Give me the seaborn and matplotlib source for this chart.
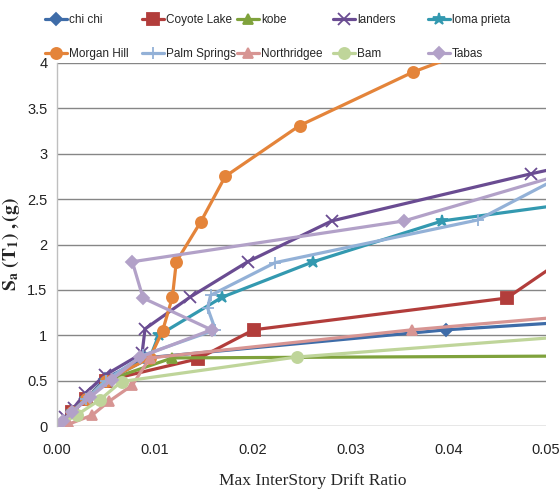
import matplotlib
matplotlib.use('Agg')
import matplotlib.pyplot as plt
import seaborn as sns
import pandas as pd

# dados (drift, Sa)
chichi_x = [0, 0.0015, 0.003, 0.0049, 0.009, 0.0398, 0.056]
chichi_y = [0, 0.15, 0.3, 0.52, 0.75, 1.06, 1.17]

coyote_x = [0, 0.0015, 0.003, 0.005, 0.0144, 0.0201, 0.046, 0.054]
coyote_y = [0, 0.15, 0.3, 0.5, 0.74, 1.06, 1.41, 2.0]

kobe_x = [0, 0.0015, 0.003, 0.005, 0.0118, 0.07]
kobe_y = [0, 0.15, 0.3, 0.5, 0.75, 0.78]

landers_x = [0, 0.0008, 0.0017, 0.0029, 0.0049, 0.0087, 0.009, 0.0136, 0.0195, 0.0281, 0.0485, 0.06]
landers_y = [0, 0.1, 0.2, 0.36, 0.56, 0.8, 1.07, 1.42, 1.81, 2.26, 2.78, 3.05]

loma_x = [0, 0.0015, 0.003, 0.005, 0.0095, 0.0104, 0.0169, 0.0262, 0.0394, 0.06]
loma_y = [0, 0.15, 0.3, 0.5, 0.75, 1.0, 1.42, 1.81, 2.26, 2.56]

morgan_x = [0, 0.0015, 0.003, 0.005, 0.0095, 0.0108, 0.0118, 0.0122, 0.0147, 0.0172, 0.0248, 0.0364, 0.05]
morgan_y = [0, 0.15, 0.3, 0.5, 0.75, 1.05, 1.42, 1.81, 2.25, 2.75, 3.31, 3.9, 4.45]

palm_x = [0, 0.0015, 0.003, 0.005, 0.0088, 0.0162, 0.0154, 0.0157, 0.0223, 0.043, 0.056]
palm_y = [0, 0.15, 0.3, 0.5, 0.78, 1.06, 1.3, 1.44, 1.8, 2.27, 3.0]

northr_x = [0, 0.0012, 0.0036, 0.0053, 0.0077, 0.0095, 0.0363, 0.06]
northr_y = [0, 0.02, 0.12, 0.27, 0.45, 0.75, 1.06, 1.28]

bam_x = [0, 0.002, 0.0044, 0.0066, 0.0245, 0.06]
bam_y = [0, 0.12, 0.29, 0.49, 0.76, 1.05]

tabas_x = [0, 0.0006, 0.0015, 0.0034, 0.0056, 0.0085, 0.0158, 0.0088, 0.0077, 0.0355, 0.062]
tabas_y = [0, 0.05, 0.15, 0.32, 0.51, 0.76, 1.06, 1.41, 1.81, 2.26, 3.1]

nomes = ['chi chi', 'Coyote Lake', 'kobe', 'landers', 'loma prieta',
         'Morgan Hill', 'Palm Springs', 'Northridgee', 'Bam', 'Tabas']
series = [(chichi_x, chichi_y), (coyote_x, coyote_y), (kobe_x, kobe_y),
          (landers_x, landers_y), (loma_x, loma_y), (morgan_x, morgan_y),
          (palm_x, palm_y), (northr_x, northr_y), (bam_x, bam_y), (tabas_x, tabas_y)]
cores = ['#3E6CA8', '#B23D3B', '#7FA23C', '#6A4C92', '#3399B0',
         '#E4843A', '#93B1D7', '#D79593', '#BFD59A', '#B2A1C8']
marcadores = ['D', 's', '^', 'x', '*', 'o', '+', '^', 'o', 'D']
tamanhos = [6, 8, 7, 8, 9, 8, 9, 7, 8, 6]

sns.set_theme(style='white')
plt.rcParams['font.family'] = ['Liberation Sans', 'DejaVu Sans']
plt.rcParams['mathtext.fontset'] = 'stix'

fig = plt.figure(figsize=(5.59, 4.95), dpi=100)
ax = fig.add_axes([57/559, 1-426/495, (546-57)/559, (426-63)/495])

for (xs, ys), nome, cor, mk, ms in zip(series, nomes, cores, marcadores, tamanhos):
    df = pd.DataFrame({'drift': xs, 'sa': ys})
    sns.lineplot(data=df, x='drift', y='sa', sort=False, estimator=None, ax=ax,
                 color=cor, marker=mk, markersize=ms, linewidth=2.3,
                 markeredgecolor=cor, markeredgewidth=1.3, label=nome, legend=False)

ax.set_xlim(0, 0.05)
ax.set_ylim(0, 4)
ax.set_xticks([0, 0.01, 0.02, 0.03, 0.04, 0.05])
ax.set_xticklabels(['0.00', '0.01', '0.02', '0.03', '0.04', '0.05'])
ax.set_yticks([0, 0.5, 1, 1.5, 2, 2.5, 3, 3.5, 4])
ax.set_yticklabels(['0', '0.5', '1', '1.5', '2', '2.5', '3', '3.5', '4'])
ax.tick_params(axis='both', labelsize=10.5, length=0, colors='#222222')
ax.tick_params(axis='y', pad=7)
ax.tick_params(axis='x', pad=12)
ax.yaxis.grid(True, color='#868686', linewidth=1)
ax.xaxis.grid(False)
for s in ['top', 'right', 'bottom']:
    ax.spines[s].set_visible(False)
ax.spines['left'].set_color('#BFBFBF')
ax.spines['left'].set_linewidth(1)

ax.set_xlabel('Max InterStory Drift Ratio', fontsize=12.5, family='Liberation Serif')
ax.xaxis.set_label_coords((313-57)/489, -(473-426)/363)
ax.set_ylabel(r'$\mathbf{S_a\ (T_1)\ ,(g)}$', fontsize=14)
ax.yaxis.set_label_coords(-(57-22)/489, 0.5)

# legenda: uma coluna por legenda, para posicionar como no original
handles, labels = ax.get_legend_handles_labels()
colunas_px = [45, 142, 237, 333, 428]
for i, xpx in enumerate(colunas_px):
    leg = fig.legend([handles[i], handles[i + 5]], [labels[i], labels[i + 5]],
                     loc='upper left', bbox_to_anchor=(xpx/559, 1 - 14/495),
                     frameon=False, fontsize=8.5, handlelength=1.9, handletextpad=0.15,
                     labelspacing=1.85, borderpad=0, borderaxespad=0)

fig.savefig('out.png', dpi=100)
